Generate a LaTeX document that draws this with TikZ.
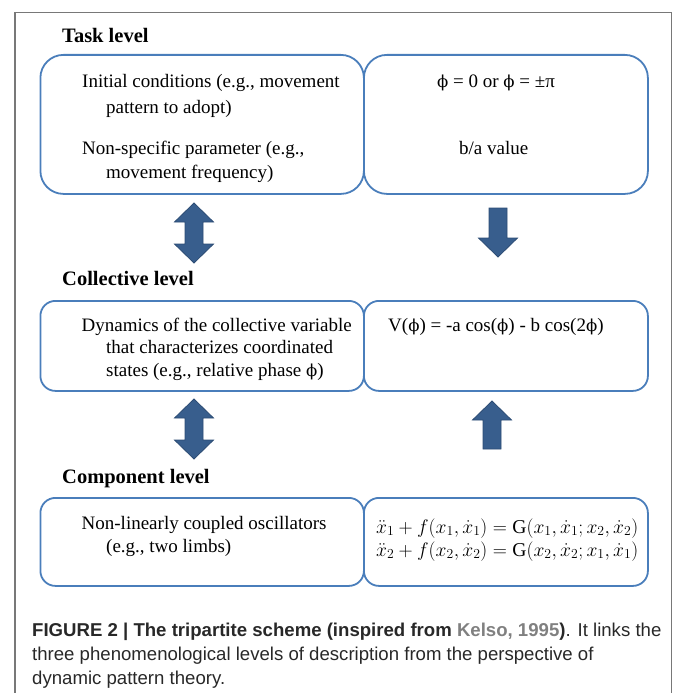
\RequirePackage{fix-cm}
\documentclass[tikz,border=0pt]{standalone}
\usepackage{amsmath}
\usepackage{fontspec}
\setmainfont{Liberation Serif}
\newfontfamily\capfont{Liberation Sans}
\newfontfamily\phifont{DejaVu Serif}
\newcommand{\phig}{{\phifont\fontsize{16.5}{20}\selectfont ϕ}}
\definecolor{boxblue}{RGB}{74,126,187}
\definecolor{arrfill}{RGB}{56,94,141}
\definecolor{arrline}{RGB}{44,76,116}
\definecolor{framegray}{RGB}{120,120,120}
\definecolor{captxt}{RGB}{40,40,40}
\definecolor{kelso}{RGB}{128,128,128}
\tikzset{
  box/.style={draw=boxblue, line width=1.8pt, inner sep=0pt, anchor=north west},
  txt/.style={inner sep=0pt, anchor=base west, font=\fontsize{19}{23}\selectfont},
  lvl/.style={inner sep=0pt, anchor=base west, font=\fontsize{20.5}{24}\selectfont\bfseries},
  eqn/.style={inner sep=0pt, anchor=base west, font=\fontsize{19.6}{23}\selectfont},
  captext/.style={inner sep=0pt, anchor=base west, text=captxt, font=\fontsize{18.6}{24}\selectfont\capfont},
  blockarrow/.style={fill=arrfill, draw=arrline, line width=0.8pt, line join=miter},
}
\begin{document}
\begin{tikzpicture}[x=1pt,y=-1pt]
\useasboundingbox (0,0) rectangle (673,693);
% outer frame
\draw[framegray, line width=1.3pt] (15,693) -- (15,12.5) -- (671.5,12.5) -- (671.5,693);

% level labels
\node[lvl] (ltask) at (62,43) {Task level};
\node[lvl] (lcoll) at (62,285) {Collective level};
\node[lvl] (lcomp) at (62,483) {Component level};

% boxes
\node[box, rounded corners=23pt, minimum width=323.5pt, minimum height=139pt] (tl) at (39.5,54) {};
\node[box, rounded corners=23pt, minimum width=284pt, minimum height=139pt] (tr) at (363,54) {};
\node[box, rounded corners=15pt, minimum width=323.5pt, minimum height=90pt] (ml) at (39.5,300) {};
\node[box, rounded corners=15pt, minimum width=284pt, minimum height=90pt] (mr) at (363,300) {};
\node[box, rounded corners=15pt, minimum width=323.5pt, minimum height=88pt] (bl) at (39.5,497) {};
\node[box, rounded corners=15pt, minimum width=284pt, minimum height=88pt] (br) at (363,497) {};

% task level texts
\node[txt] (t1) at (82,88) {Initial conditions (e.g., movement};
\node[txt] (t2) at (106,113) {pattern to adopt)};
\node[txt] (t3) at (82,154) {Non-specific parameter (e.g.,};
\node[txt] (t4) at (106,178) {movement frequency)};
\node[txt] (t5) at (437,87) {\phig{} = 0 or \phig{} = ±π};
\node[txt] (t6) at (459,154) {b/a value};

% collective level texts
\node[txt] (c1) at (81.5,331) {Dynamics of the collective variable};
\node[txt] (c2) at (106,353) {that characterizes coordinated};
\node[txt] (c3) at (106,376) {states (e.g., relative phase \phig)};
\node[txt] (c4) at (388,331) {V(\phig) = -a cos(\phig) - b cos(2\phig)};

% component level texts
\node[txt] (p1) at (81.5,529) {Non-linearly coupled oscillators};
\node[txt] (p2) at (106,552) {(e.g., two limbs)};
\node[eqn] (eq) at (376,533) {\begin{tabular}[t]{@{}l@{}}
$\ddot{x}_1+f(x_1,\dot{x}_1)=\mathrm{G}(x_1,\dot{x}_1;x_2,\dot{x}_2)$\\
$\ddot{x}_2+f(x_2,\dot{x}_2)=\mathrm{G}(x_2,\dot{x}_2;x_1,\dot{x}_1)$
\end{tabular}};

% block arrows
\draw[blockarrow] (194,203) -- ++(19.5,19) -- ++(-10.5,0) -- ++(0,22) -- ++(10.5,0) -- ++(-19.5,19) -- ++(-19.5,-19) -- ++(10.5,0) -- ++(0,-22) -- ++(-10.5,0) -- cycle;
\draw[blockarrow] (489,208) -- ++(18,0) -- ++(0,30) -- ++(10.5,0) -- ++(-19.5,19) -- ++(-19.5,-19) -- ++(10.5,0) -- cycle;
\draw[blockarrow] (194,399) -- ++(19.5,19) -- ++(-10.5,0) -- ++(0,22) -- ++(10.5,0) -- ++(-19.5,19) -- ++(-19.5,-19) -- ++(10.5,0) -- ++(0,-22) -- ++(-10.5,0) -- cycle;
\draw[blockarrow] (492,401) -- ++(19.5,19) -- ++(-10.5,0) -- ++(0,29) -- ++(-18,0) -- ++(0,-29) -- ++(-10.5,0) -- cycle;

% caption
\node[captext] (cap1) at (32,636) {{\bfseries FIGURE 2 | The tripartite scheme (inspired from \textcolor{kelso}{Kelso, 1995})}. It links the};
\node[captext] (cap2) at (32,660.5) {three phenomenological levels of description from the perspective of};
\node[captext] (cap3) at (32,684.5) {dynamic pattern theory.};
\end{tikzpicture}
\end{document}
